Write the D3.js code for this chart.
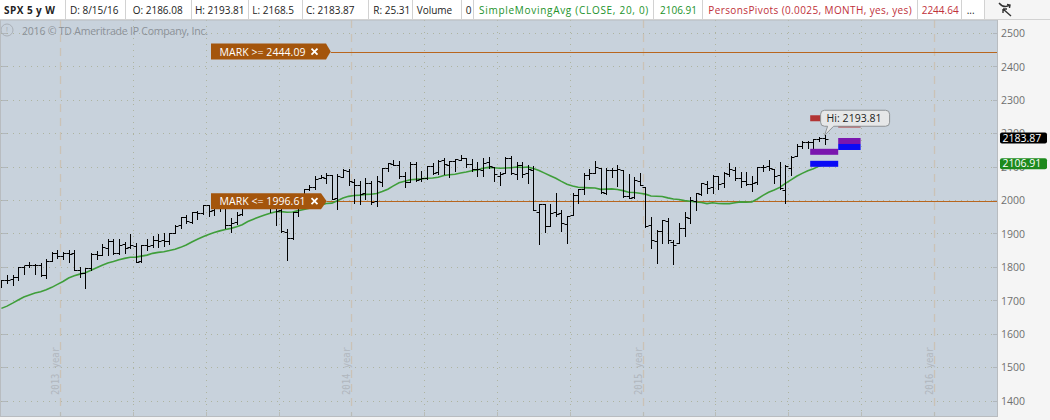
<!DOCTYPE html>
<html><head><meta charset="utf-8">
<script src="https://cdn.jsdelivr.net/npm/d3@7"></script>
<style>
html,body{margin:0;padding:0;background:#f5f5f5;overflow:hidden;}
svg{display:block;font-family:"Open Sans",sans-serif;}
</style></head><body>
<svg id="c" width="1050" height="420"></svg>
<script>
// ---------------- DATA ----------------
const firstWeek = "2013-10-21", lastWeek = "2016-08-15";   // weekly bars (Monday dates)
const open = [1745.2,1759.4,1763.4,1769.0,1798.8,1806.3,1806.6,1806.2,1777.0,1819.0,1841.3,1832.3,1842.3,1841.1,1791.0,1782.7,1798.0,1838.0,1836.8,1857.7,1877.9,1842.8,1867.7,1859.2,1863.9,1818.2,1865.8,1865.0,1879.5,1880.0,1876.7,1902.0,1923.9,1949.4,1934.8,1962.9,1960.8,1984.2,1969.9,1976.9,1978.2,1926.6,1933.4,1958.4,1991.7,2004.1,2007.2,1986.0,2009.1,1978.9,1970.0,1905.7,1885.6,1962.9,2018.2,2032.0,2038.3,2065.1,2065.8,2074.8,2005.0,2069.3,2087.6,2054.4,2046.1,2020.8,2050.4,1996.7,2053.5,2096.5,2109.1,2105.2,2072.3,2055.4,2107.9,2064.1,2064.9,2102.0,2084.1,2119.3,2105.5,2115.6,2121.1,2125.3,2108.6,2092.3,2091.3,2112.5,2098.6,2073.0,2080.0,2126.8,2078.2,2104.5,2080.0,2089.7,1965.2,1986.7,1921.9,1963.1,1960.8,1929.2,1954.3,2015.7,2033.5,2075.1,2080.8,2096.6,2022.1,2089.4,2090.9,2090.4,2013.4,2010.3,2057.8,2038.2,1926.1,1878.9,1906.3,1936.9,1873.3,1871.4,1917.2,1947.1,1996.1,2019.3,2048.6,2037.9,2073.2,2050.2,2078.8,2089.4,2067.2,2057.6,2046.5,2052.7,2100.1,2100.8,2091.8,2075.6,2031.5,2095.1,2131.7,2162.0,2173.7,2173.1,2183.8,2186.08];
const high = [1759.8,1775.2,1774.5,1798.2,1802.3,1813.6,1810.0,1811.5,1823.8,1844.9,1849.4,1843.2,1850.8,1849.3,1798.8,1798.0,1841.7,1847.5,1867.9,1883.6,1882.4,1883.9,1875.2,1897.3,1872.5,1864.9,1884.9,1891.3,1897.1,1902.2,1901.3,1924.0,1949.4,1955.6,1963.9,1968.2,1985.6,1984.9,1983.9,1991.4,1991.4,1945.0,1964.0,1994.8,2005.0,2011.2,2007.7,2019.3,2009.1,1981.3,1977.8,1912.1,1965.3,2018.2,2034.3,2046.2,2071.5,2075.8,2079.5,2075.8,2077.8,2093.6,2093.6,2064.4,2056.1,2064.6,2057.6,2072.4,2097.0,2110.6,2119.6,2117.5,2083.5,2114.9,2114.9,2088.2,2102.6,2111.9,2120.9,2125.9,2117.7,2123.9,2134.7,2126.2,2121.9,2115.0,2126.6,2129.9,2098.6,2083.7,2128.0,2132.8,2114.2,2112.7,2105.4,2102.9,1989.0,1986.7,1988.6,2020.9,1970.0,1951.4,2020.2,2034.0,2079.7,2094.3,2116.5,2096.6,2097.0,2095.6,2104.3,2090.4,2076.7,2067.7,2081.6,2038.2,1950.3,1908.9,1940.2,1947.2,1881.6,1930.7,1962.9,2009.1,2022.4,2052.4,2056.6,2075.1,2073.2,2083.1,2111.1,2099.9,2083.4,2084.9,2071.9,2099.3,2105.3,2120.6,2091.8,2113.3,2103.5,2131.7,2169.1,2175.6,2177.1,2182.9,2188.5,2193.81];
const low = [1740.6,1752.7,1746.2,1761.6,1780.2,1800.1,1779.1,1772.3,1767.0,1819.0,1827.7,1823.7,1815.2,1790.3,1770.5,1737.9,1791.8,1824.6,1836.8,1834.4,1839.6,1839.5,1842.6,1857.8,1814.4,1815.8,1850.7,1859.8,1859.8,1862.4,1868.1,1902.0,1915.9,1930.0,1930.0,1944.7,1958.2,1952.9,1955.6,1965.8,1916.4,1904.8,1928.0,1955.8,1989.0,1990.9,1980.0,1978.5,1965.0,1926.0,1905.0,1820.7,1883.0,1951.4,2001.0,2030.2,2034.5,2064.8,2049.6,2002.3,1972.6,2069.3,2046.0,1992.4,1988.1,2004.5,1988.3,1980.9,2041.9,2085.4,2103.8,2067.3,2039.7,2055.4,2055.8,2056.5,2062.5,2077.4,2079.2,2077.5,2067.9,2085.7,2120.0,2099.2,2085.7,2072.1,2072.8,2097.0,2056.6,2044.0,2080.0,2077.1,2063.5,2067.9,2052.1,1970.9,1867.0,1903.1,1921.9,1953.0,1908.8,1872.0,1954.3,1990.7,2019.4,2062.6,2080.8,2022.0,2019.4,2070.3,2042.4,2008.8,2005.1,2005.9,2043.6,1918.5,1857.8,1812.3,1872.0,1872.7,1810.1,1871.4,1891.0,1931.8,1969.0,2015.0,2022.5,2022.0,2033.8,2039.7,2071.4,2060.2,2039.5,2043.9,2025.9,2047.4,2085.6,2089.4,2050.4,2032.1,1991.7,2074.0,2131.7,2154.8,2155.8,2147.6,2177.0,2168.5];
const close = [1759.8,1761.6,1770.6,1798.2,1804.8,1805.8,1805.1,1775.3,1818.3,1841.4,1831.4,1842.4,1838.7,1790.3,1782.6,1797.0,1838.6,1836.3,1859.5,1878.0,1841.1,1866.5,1857.6,1865.1,1815.7,1864.9,1863.4,1881.1,1878.5,1877.9,1900.5,1923.6,1949.4,1936.2,1962.9,1961.0,1985.4,1967.6,1978.2,1978.3,1925.2,1931.6,1955.1,1988.4,2003.4,2007.7,1985.5,2010.4,1982.9,1967.9,1906.1,1886.8,1964.6,2018.1,2031.9,2039.8,2063.5,2067.6,2075.4,2002.3,2070.7,2088.8,2058.2,2044.8,2019.4,2051.8,1995.0,2055.5,2097.0,2110.3,2104.5,2071.3,2053.4,2108.1,2061.0,2067.0,2102.1,2081.2,2117.7,2108.3,2116.1,2122.7,2126.1,2107.4,2092.8,2094.1,2110.0,2101.5,2076.8,2076.6,2126.6,2079.7,2103.8,2077.6,2091.5,1970.9,1988.9,1921.2,1961.1,1958.1,1931.3,1951.4,2014.9,2033.1,2075.2,2079.4,2099.2,2023.0,2089.2,2090.1,2091.7,2012.4,2005.6,2061.0,2043.9,1922.0,1880.3,1906.9,1940.2,1880.1,1864.8,1917.8,1948.1,2000.0,2022.2,2049.6,2035.9,2072.8,2047.6,2080.7,2091.6,2065.3,2057.1,2046.6,2052.3,2099.1,2099.1,2096.1,2071.2,2037.4,2103.0,2129.9,2161.7,2175.0,2173.6,2182.9,2184.1,2183.87];
const sma20 = [1675.9,1682.6,1691.5,1701.1,1709.8,1716.1,1721.7,1725.9,1731.3,1738.8,1747.6,1756.5,1766.8,1773.6,1778.3,1782.7,1790.0,1797.3,1805.1,1811.8,1815.9,1821.1,1825.4,1828.8,1829.3,1832.3,1835.2,1840.5,1843.5,1845.3,1848.8,1852.8,1858.4,1865.7,1874.7,1882.9,1890.2,1896.8,1902.7,1907.7,1912.0,1915.2,1920.1,1926.2,1935.6,1942.8,1948.9,1955.3,1960.6,1965.1,1965.3,1963.5,1964.3,1968.4,1971.8,1975.7,1979.7,1984.7,1989.5,1990.7,1998.0,2005.8,2011.0,2013.8,2014.6,2016.8,2017.3,2019.6,2025.3,2032.4,2042.3,2051.5,2056.0,2060.5,2061.9,2063.3,2065.2,2065.9,2068.0,2073.3,2075.6,2077.3,2080.7,2083.8,2087.5,2089.6,2095.3,2097.6,2096.6,2094.9,2096.0,2096.5,2099.0,2097.5,2099.0,2094.2,2088.5,2080.5,2072.7,2065.2,2055.9,2047.4,2041.8,2038.1,2037.2,2036.5,2035.9,2032.0,2032.6,2033.3,2031.6,2028.2,2023.3,2022.5,2020.1,2017.6,2012.2,2011.5,2010.4,2006.5,2003.2,2001.5,1998.2,1996.5,1993.9,1992.4,1989.2,1991.7,1989.7,1989.2,1989.2,1991.8,1994.4,1993.7,1994.1,2003.0,2013.9,2023.4,2029.9,2037.8,2049.7,2060.3,2071.0,2079.7,2087.3,2093.9,2101.4,2106.91];
const yTicks = [1400,1500,1600,1700,1800,1900,2000,2100,2200,2300,2400,2500];
const quarterStarts = ["2014-01-06","2014-04-07","2014-07-07","2014-10-06","2015-01-05","2015-04-06","2015-07-06","2015-10-05","2016-01-04","2016-04-04","2016-07-04","2016-10-03","2017-01-02"];
const yearLabels = [{at:"2014-01-06",text:"2013 year"},{at:"2015-01-05",text:"2014 year"},{at:"2016-01-04",text:"2015 year"},{at:"2017-01-02",text:"2016 year"}];
const marks = [{value:2444.09, text:"MARK >= 2444.09"},{value:1996.61, text:"MARK <= 1996.61"}];
const pivotSegs = [
  {kind:"R", from:"2016-07-28", to:"2016-09-01", value:2244.64},
  {kind:"R", from:"2016-09-01", to:"2016-09-29", value:2226.0},
  {kind:"P", from:"2016-07-28", to:"2016-09-01", value:2144.3},
  {kind:"P", from:"2016-09-01", to:"2016-09-29", value:2176.6},
  {kind:"S", from:"2016-07-28", to:"2016-09-01", value:2108.4},
  {kind:"S", from:"2016-09-01", to:"2016-09-29", value:2158.7}
];
const headerTexts = ["SPX 5 y W","D: 8/15/16","O: 2186.08","H: 2193.81","L: 2168.5","C: 2183.87","R: 25.31","Volume","0","SimpleMovingAvg (CLOSE, 20, 0)","2106.91","PersonsPivots (0.0025, MONTH, yes, yes)","2244.64","..."];
const lastClose = 2183.87, lastSma = 2106.91;
const copyright = "2016 © TD Ameritrade IP Company, Inc.";

// ---------------- LAYOUT ----------------
const W = 1050, H = 420;
const plot = {l:1, r:997, t:20, b:416};
const hdrX = [4,70,132.7,195,252.3,306,373.3,416.7,465.7,479,660,708.3,921.7,966.7];
const hdrW = [51,0,0,0,0,0,0,0,0,169.3,0,203.4,0,0];
const hdrSep = [65,125,190.7,247.7,301.7,368.3,412.3,461,473.3,652.7,701.7,916.7,961,984.3];
const hdrColor = i => (i===9||i===10) ? "#22922a" : (i===11||i===12) ? "#c0303a" : "#222";
const pivColor = {R:"#b23434", P:"#7a16ae", S:"#0a0af5"};

const parse = s => new Date(s + "T00:00:00Z");
const weeks = d3.utcMonday.range(parse(firstWeek), d3.utcDay.offset(parse(lastWeek), 1));
const bars = weeks.map((d,i)=>({d, o:open[i], h:high[i], l:low[i], c:close[i], s:sma20[i]}));

const x = d3.scaleUtc().domain([weeks[0], weeks[weeks.length-1]]).range([1.4, 824.6]);
const y = d3.scaleLinear().domain([1400, 2500]).range([400.6, 32.9]);
const step = x(d3.utcDay.offset(weeks[0], 7)) - x(weeks[0]);
const crisp = v => Math.round(v) + 0.5;

const svg = d3.select("#c");
svg.append("rect").attr("width", W).attr("height", H).attr("fill", "#f5f5f5");
svg.append("rect").attr("x", plot.l).attr("y", plot.t).attr("width", plot.r-plot.l).attr("height", plot.b-plot.t).attr("fill", "#c8d2dc");
svg.append("defs").append("clipPath").attr("id","clip").append("rect")
  .attr("x", plot.l).attr("y", plot.t).attr("width", plot.r-plot.l).attr("height", plot.b-plot.t);

const g = svg.append("g").attr("clip-path","url(#clip)");

// horizontal dotted grid
g.append("g").selectAll("line").data(yTicks).join("line")
  .attr("x1", plot.l).attr("x2", plot.r)
  .attr("y1", d=>crisp(y(d))).attr("y2", d=>crisp(y(d)))
  .attr("stroke", "#aeb4a0").attr("stroke-dasharray", "1,5");

// vertical grid (quarters dotted, years dashed)
const qx = s => crisp(x(parse(s)) - step/2);
const isYear = s => parse(s).getUTCMonth()===0;
g.append("g").selectAll("line").data(quarterStarts).join("line")
  .attr("x1", qx).attr("x2", qx).attr("y1", plot.t).attr("y2", plot.b)
  .attr("stroke", d => isYear(d) ? "#cbc2b6" : "#aeb4a0")
  .attr("stroke-width", d => isYear(d) ? 1.3 : 1)
  .attr("stroke-dasharray", d => isYear(d) ? "8,6" : "1,5");

svg.append("g").selectAll("line").data(quarterStarts).join("line")
  .attr("x1", qx).attr("x2", qx).attr("y1", plot.b-4).attr("y2", plot.b)
  .attr("stroke", "#b9bcb8");

// year labels
g.append("g").selectAll("text").data(yearLabels).join("text")
  .attr("transform", d => `translate(${qx(d.at)-2},395) rotate(-90)`)
  .attr("font-family", "DejaVu Sans Mono, monospace").attr("font-size", 10.5)
  .attr("textLength", 48).attr("lengthAdjust","spacingAndGlyphs")
  .attr("fill", "#b1b7be").text(d => d.text);

// left & right axis ticks
svg.append("g").selectAll("line").data(yTicks).join("line")
  .attr("x1", plot.l+1).attr("x2", plot.l+6).attr("y1", d=>crisp(y(d))).attr("y2", d=>crisp(y(d))).attr("stroke", "#b0b6bc");
svg.append("g").selectAll("line").data(yTicks).join("line")
  .attr("x1", plot.r-4).attr("x2", plot.r).attr("y1", d=>crisp(y(d))).attr("y2", d=>crisp(y(d))).attr("stroke", "#b0b6bc");

// copyright
svg.append("circle").attr("cx", 7).attr("cy", 30).attr("r", 6).attr("fill","none").attr("stroke","#a9afb6");
svg.append("text").attr("x", 7).attr("y", 33.5).attr("text-anchor","middle").attr("font-size", 9).attr("fill","#a9afb6").text("!");
svg.append("text").attr("x", 22).attr("y", 34.5).attr("font-size", 10.5).attr("fill","#8b9198")
  .attr("textLength", 186).attr("lengthAdjust","spacing").text(copyright);

// mark lines
const markTip = [330.7, 326.7], markRight = [326, 321];
g.append("g").selectAll("line").data(marks).join("line")
  .attr("x1", (d,i)=>markTip[i]).attr("x2", plot.r)
  .attr("y1", d=>crisp(y(d.value))).attr("y2", d=>crisp(y(d.value)))
  .attr("stroke", "#b8661e").attr("stroke-width", 1);

// SMA
g.append("path").datum(bars)
  .attr("d", d3.line().x(b=>x(b.d)).y(b=>y(b.s)))
  .attr("fill","none").attr("stroke","#3f9e3a").attr("stroke-width",1.6);

// OHLC bars
const bg = g.append("g").attr("stroke","#000").attr("stroke-width",1);
bars.forEach(b=>{
  const cx = crisp(x(b.d));
  bg.append("line").attr("x1",cx).attr("x2",cx).attr("y1",Math.round(y(b.h))).attr("y2",Math.round(y(b.l))+1);
  bg.append("line").attr("x1",cx-3).attr("x2",cx).attr("y1",crisp(y(b.o))).attr("y2",crisp(y(b.o)));
  bg.append("line").attr("x1",cx).attr("x2",cx+3).attr("y1",crisp(y(b.c))).attr("y2",crisp(y(b.c)));
});

// Pivots
g.append("g").selectAll("rect").data(pivotSegs).join("rect")
  .attr("x", d=>x(parse(d.from))).attr("width", d=>x(parse(d.to))-x(parse(d.from)))
  .attr("y", d=>y(d.value)-3).attr("height", 6)
  .attr("fill", d=>pivColor[d.kind]);

// mark labels
marks.forEach((m,i)=>{
  const yc = y(m.value), x0 = 211, x1 = markRight[i], tip = markTip[i];
  svg.append("path").attr("d", `M${x0},${yc-8}H${x1}L${tip},${yc}L${x1},${yc+8}H${x0}Z`).attr("fill","#a4550c");
  svg.append("text").attr("x", 219.5).attr("y", yc+4).attr("font-size", 10.5).attr("fill","#fff")
    .attr("textLength", 86).attr("lengthAdjust","spacing").text(m.text);
  const cxX = 314.5;
  svg.append("path").attr("d", `M${cxX-3},${yc-3}L${cxX+3},${yc+3}M${cxX+3},${yc-3}L${cxX-3},${yc+3}`)
    .attr("stroke","#fff").attr("stroke-width",1.8);
});

// Hi label
const last = bars[bars.length-1];
const tx = x(last.d), ty = y(last.h);
const lx = tx - 4, ly = ty - 25, lw = 69, lh = 16;
svg.append("path").attr("d",
  `M${lx+4},${ly}H${lx+lw-4}Q${lx+lw},${ly} ${lx+lw},${ly+4}V${ly+lh-4}Q${lx+lw},${ly+lh} ${lx+lw-4},${ly+lh}H${lx+13}L${tx},${ty}L${lx+7},${ly+lh}H${lx+4}Q${lx},${ly+lh} ${lx},${ly+lh-4}V${ly+4}Q${lx},${ly} ${lx+4},${ly}Z`)
  .attr("fill","#e6e7e8").attr("stroke","#8f9396");
svg.append("text").attr("x", lx+6).attr("y", ly+12).attr("font-size",10.5).attr("fill","#222")
  .attr("textLength", 55).attr("lengthAdjust","spacing").text("Hi: " + d3.format(".2f")(last.h));

// plot border
svg.append("rect").attr("x", plot.l-0.5).attr("y", plot.t).attr("width", plot.r-plot.l+1).attr("height", plot.b-plot.t+0.5)
  .attr("fill","none").attr("stroke","#b8bcc0");

// right axis labels
svg.append("g").selectAll("text").data(yTicks).join("text")
  .attr("x", 1001).attr("y", d=>y(d)+4.3).attr("font-size",10.5).attr("fill","#6f6f6f").text(d=>d);

// value bubbles
[[lastClose,"#000"],[lastSma,"#1d8a1d"]].forEach(([v,col])=>{
  const yc = y(v) - 0.6;
  svg.append("rect").attr("x",1000).attr("y",yc-5.5).attr("width",47).attr("height",11).attr("rx",2).attr("fill",col);
  svg.append("text").attr("x",1002.5).attr("y",yc+3.8).attr("font-size",10.5).attr("fill","#fff").text(d3.format(".2f")(v));
});

// header
svg.append("rect").attr("x",0).attr("y",0).attr("width",984).attr("height",19.5).attr("fill","#fff");
svg.append("rect").attr("x",984).attr("y",0).attr("width",W-984).attr("height",19.5).attr("fill","#f5f5f5");
svg.append("line").attr("x1",0).attr("x2",W).attr("y1",19.5).attr("y2",19.5).attr("stroke","#d2d2d2");
svg.append("g").selectAll("line").data(hdrSep).join("line")
  .attr("x1",d=>crisp(d)).attr("x2",d=>crisp(d)).attr("y1",0).attr("y2",19.5).attr("stroke","#d2d2d2");
svg.append("g").selectAll("text").data(headerTexts).join("text")
  .attr("x",(d,i)=>hdrX[i]).attr("y",13.5).attr("font-size",10)
  .attr("font-weight",(d,i)=>i===0?"bold":"normal")
  .each(function(d,i){ if (hdrW[i]>0) d3.select(this).attr("textLength",hdrW[i]).attr("lengthAdjust","spacing"); })
  .attr("fill",(d,i)=>hdrColor(i)).text(d=>d);

// top-right icon
svg.append("path").attr("d","M999,3 Q1004,9 1010,5 M1007,4.5 L1010,5 L1009.5,8 M1011,16 L1003,9 M1003,9 L1003,13 M1003,9 L1007,9")
  .attr("fill","none").attr("stroke","#333").attr("stroke-width",1.4);
</script>
</body></html>
